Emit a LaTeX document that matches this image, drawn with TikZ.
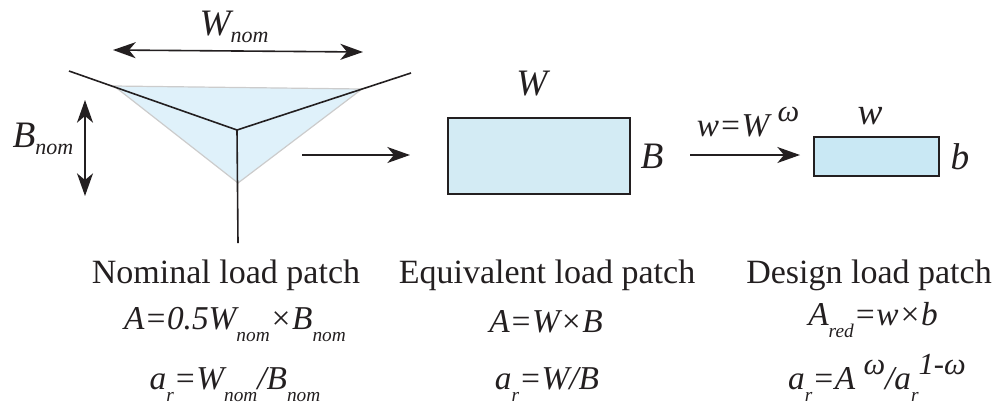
\documentclass[tikz,border=0pt]{standalone}
\usepackage{xcolor}
\usepackage{fontspec}
\setmainfont{Liberation Serif}
\usetikzlibrary{positioning,arrows.meta,calc}

\definecolor{inkdark}{HTML}{231F20}
\definecolor{patchtri}{HTML}{DFF1FA}
\definecolor{patchrect}{HTML}{D3EBF4}
\definecolor{patchsmall}{HTML}{C9E8F4}

\newcommand{\lowsub}[1]{\raisebox{-9pt}{\fontsize{14.5}{14.5}\selectfont\itshape #1}}
\newcommand{\midsub}[1]{\raisebox{-5pt}{\fontsize{16.5}{16.5}\selectfont\itshape #1}}
\newcommand{\highsup}[1]{\raisebox{11pt}{\fontsize{23}{23}\selectfont\itshape #1}}

\tikzset{
    dimline/.style={draw=inkdark, line width=1.2pt, {Stealth[length=17pt,width=12pt,inset=5pt]}-{Stealth[length=17pt,width=12pt,inset=5pt]}},
    flowline/.style={draw=inkdark, line width=1.2pt, -{Stealth[length=17pt,width=12pt,inset=5pt]}},
    roofline/.style={draw=inkdark, line width=1.2pt},
    patchbox/.style={draw=inkdark, line width=1.2pt, anchor=north west, inner sep=0pt},
    caption/.style={font=\fontsize{25.5}{27}\selectfont, text=inkdark, inner sep=0pt},
    formula/.style={font=\fontsize{25}{26}\selectfont\itshape, text=inkdark, inner sep=0pt},
    symbol/.style={font=\fontsize{28}{30}\selectfont\itshape, text=inkdark, inner sep=0pt}
}

\begin{document}
\begin{tikzpicture}[x=0.75pt,y=-0.75pt]
    \useasboundingbox (0,0) rectangle (992,408);

    % nominal patch
    \coordinate (triL) at (114,86);
    \coordinate (triR) at (362,89);
    \coordinate (triB) at (238,183);
    \coordinate (ridgeL) at (69,71);
    \coordinate (ridgeR) at (411,73);
    \coordinate (ridgeC) at (237,130);
    \coordinate (ridgeS) at (238,243);
    \fill[patchtri] (triL) -- (triR) -- (triB) -- cycle;
    \draw[gray!40, line width=0.9pt] (triL) -- (triR) -- (triB) -- cycle;
    \draw[roofline] (ridgeL) -- (ridgeC) -- (ridgeR);
    \draw[roofline] (ridgeC) -- (ridgeS);

    \coordinate (wnomL) at (113,50);
    \coordinate (wnomR) at (363,52);
    \coordinate (bnomT) at (85,100);
    \coordinate (bnomB) at (85,196);
    \draw[dimline] (wnomL) -- (wnomR);
    \draw[dimline] (bnomT) -- (bnomB);
    \node[symbol] (wnomlabel) at (234,27) {W\midsub{nom}};
    \node[symbol] (bnomlabel) at (43,139) {B\midsub{nom}};

    % equivalent patch
    \node[patchbox, fill=patchrect, minimum width=182*0.75pt, minimum height=76*0.75pt] (eqbox) at (447,117) {};
    \node[symbol] (wlabel) at (532,84) {W};
    \node[symbol] (blabel) at (652,156) {B};
    \coordinate (nomout) at (302,155);
    \draw[flowline] (nomout) -- (410,155);

    % design patch
    \node[patchbox, fill=patchsmall, minimum width=125*0.75pt, minimum height=39*0.75pt] (desbox) at (813,136) {};
    \node[symbol] (smallw) at (870,116) {w};
    \node[symbol] (smallb) at (960,157) {b};
    \coordinate (eqout) at (690,155);
    \coordinate (desin) at (800,155);
    \draw[flowline] (eqout) -- (desin);
    \node[symbol, font=\fontsize{25}{26}\selectfont\itshape] (scalelabel) at (748,122) {w=W \highsup{ω}};

    % captions
    \node[caption] (nomcap) at (226,275) {Nominal load patch};
    \node[caption] (eqcap) at (547,275) {Equivalent load patch};
    \node[caption] (descap) at (869,275) {Design load patch};

    \node[formula] (nomarea) at (235,325) {A=0.5W\lowsub{nom}×B\lowsub{nom}};
    \node[formula] (eqarea) at (546,322) {A=W×B};
    \node[formula] (desarea) at (873,320) {A\lowsub{red}=w×b};
    \node[formula] (nomratio) at (235,385) {a\lowsub{r}=W\lowsub{nom}/B\lowsub{nom}};
    \node[formula] (eqratio) at (547,385) {a\lowsub{r}=W/B};
    \node[formula] (desratio) at (877,378) {a\lowsub{r}=A \highsup{ω}/a\lowsub{r}\highsup{1-ω}};
\end{tikzpicture}
\end{document}
